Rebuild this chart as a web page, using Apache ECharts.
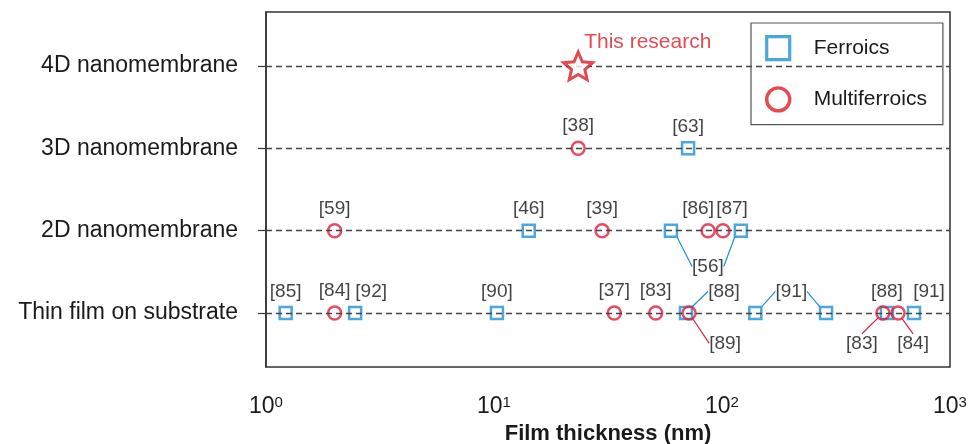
<!DOCTYPE html>
<html lang="en">
<head>
    <meta charset="utf-8">
    <title>Film thickness</title>
    <script type="text/javascript" src="https://cdn.jsdelivr.net/npm/echarts@6/dist/echarts.min.js"></script>
</head>
<body style="margin:0">
<div id="main" style="width: 968px;height:444px;"></div>
<script>
    // rows from bottom to top
    var rows = ['Thin film on substrate', '2D nanomembrane', '3D nanomembrane', '4D nanomembrane'];

    // ferroics (squares)
    var ferroThick = [1.22, 2.46, 10.3, 69.5, 140, 286, 529, 695, 14.2, 59.7, 121, 71];
    var ferroRow = [0, 0, 0, 0, 0, 0, 0, 0, 1, 1, 1, 2];
    var ferroRef = ['[85]', '[92]', '[90]', '[88]', '[91]', '[91]', '[88]', '[91]', '[46]', '[56]', '[56]', '[63]'];

    // multiferroics (circles)
    var multiThick = [2.0, 33.7, 51.2, 71.7, 508, 592, 2.0, 29.8, 86.9, 101, 23.4];
    var multiRow = [0, 0, 0, 0, 0, 0, 1, 1, 1, 1, 2];
    var multiRef = ['[84]', '[37]', '[83]', '[89]', '[83]', '[84]', '[59]', '[39]', '[86]', '[87]', '[38]'];

    // this work
    var thisThick = [23.4];
    var thisRow = [3];
    var thisName = ['This research'];

    var BLUE = '#1d92d2';
    var RED = '#e0203f';
    var STAR_RED = '#dc1d24';
    var FONT = 'Liberation Sans, Arial, sans-serif';

    // label placement tweaks (index -> placement); shared = label text drawn by its twin
    var ferroTweaks = {
        1: {dx: 16},
        3: {dx: 38, line: true},
        4: {dx: 36, line: true},
        5: {dx: -35, line: true, shared: true},
        7: {dx: 15},
        9: {pos: 'bottom', dist: 19, dx: 37, line: true},
        10: {pos: 'bottom', dist: 19, dx: -33, line: true, shared: true}
    };
    var multiTweaks = {
        3: {pos: 'bottom', dist: 13, dx: 36, line: true},
        4: {pos: 'bottom', dist: 13, dx: -21, line: true},
        5: {pos: 'bottom', dist: 13, dx: 15, line: true},
        8: {dx: -10},
        9: {dx: 9}
    };

    function buildItems(thick, row, ref, tweaks, lineColor) {
        return thick.map(function (v, i) {
            var item = {value: [v, row[i]], name: ref[i]};
            var t = tweaks[i];
            if (t) {
                item.label = {position: t.pos || 'top', distance: t.dist || 5};
                if (t.shared) {
                    item.label.color = 'rgba(0,0,0,0)';
                }
                if (t.line) {
                    item.labelLine = {show: true, lineStyle: {color: lineColor, width: 1.2}};
                }
            }
            return item;
        });
    }

    function shiftLabels(tweaks) {
        return function (params) {
            var t = tweaks[params.dataIndex];
            return t ? {dx: t.dx || 0} : {};
        };
    }

    var starPath = 'path://M50 0 L63.5 31.4 L97.55 34.55 L71.9 57.1 L79.39 90.45 L50 73 L20.61 90.45 L28.1 57.1 L2.45 34.55 L36.5 31.4 Z';

    var myChart = echarts.init(document.getElementById('main'));
    var option = {
        animation: false,
        textStyle: {fontFamily: FONT},
        grid: {
            left: 266, right: 18, top: 12, bottom: 77,
            outerBoundsMode: 'none',
            show: true, borderColor: '#333', borderWidth: 1.5, backgroundColor: 'transparent'
        },
        legend: {
            orient: 'vertical',
            left: 751, top: 23,
            padding: [12, 16, 12, 14],
            itemWidth: 23, itemHeight: 23, itemGap: 25,
            borderColor: '#555', borderWidth: 1.2, backgroundColor: '#fff',
            textStyle: {fontSize: 21, color: '#1a1a1a', fontFamily: FONT, padding: [0, 0, 0, 19]},
            data: [
                {name: 'Ferroics', icon: 'rect', itemStyle: {color: 'rgba(0,0,0,0)', borderColor: BLUE, borderWidth: 3.2}},
                {name: 'Multiferroics', icon: 'circle', itemStyle: {color: 'rgba(0,0,0,0)', borderColor: '#e01b22', borderWidth: 3.4}}
            ]
        },
        xAxis: {
            type: 'log',
            logBase: 10,
            min: 1,
            max: 1000,
            name: 'Film thickness (nm)',
            nameLocation: 'middle',
            nameGap: 55,
            nameTextStyle: {fontSize: 22, fontWeight: 'bold', color: '#1a1a1a', fontFamily: FONT},
            axisLine: {show: false},
            axisTick: {show: false},
            splitLine: {show: false},
            axisLabel: {
                margin: 28,
                color: '#1a1a1a',
                formatter: function (v) {
                    return '{b|10}{s|' + Math.round(Math.log10(v)) + '}';
                },
                rich: {
                    b: {fontSize: 23, lineHeight: 24, color: '#1a1a1a', fontFamily: FONT},
                    s: {fontSize: 15, lineHeight: 24, verticalAlign: 'top', color: '#1a1a1a', fontFamily: FONT}
                }
            }
        },
        yAxis: {
            type: 'value',
            min: -0.655,
            max: 3.655,
            axisLine: {show: true, lineStyle: {color: '#333', width: 1.5}},
            axisTick: {show: true, customValues: [0, 1, 2, 3], length: 8, lineStyle: {color: '#333', width: 1.2}},
            axisLabel: {
                customValues: [0, 1, 2, 3],
                formatter: function (v) { return rows[Math.round(v)]; },
                fontSize: 23, color: '#1a1a1a', margin: 28, fontFamily: FONT
            },
            splitLine: {show: false}
        },
        series: [
            {
                type: 'scatter',
                name: 'rows',
                data: [],
                z: 1,
                silent: true,
                markLine: {
                    silent: true,
                    symbol: ['none', 'none'],
                    label: {show: false},
                    lineStyle: {type: [6, 4], color: '#444', width: 1.3},
                    data: rows.map(function (r, i) { return {yAxis: i}; })
                }
            },
            {
                type: 'scatter',
                name: 'Ferroics',
                z: 3,
                symbol: 'rect',
                symbolSize: 12,
                itemStyle: {color: 'rgba(0,0,0,0)', borderColor: BLUE, borderWidth: 2.5},
                label: {
                    show: true, position: 'top', distance: 5,
                    formatter: function (p) { return p.name; },
                    fontSize: 19, color: '#111', fontFamily: FONT
                },
                labelLayout: shiftLabels(ferroTweaks),
                data: buildItems(ferroThick, ferroRow, ferroRef, ferroTweaks, BLUE)
            },
            {
                type: 'scatter',
                name: 'Multiferroics',
                z: 4,
                symbol: 'circle',
                symbolSize: 13,
                itemStyle: {color: 'rgba(0,0,0,0)', borderColor: RED, borderWidth: 2.5},
                label: {
                    show: true, position: 'top', distance: 5,
                    formatter: function (p) { return p.name; },
                    fontSize: 19, color: '#111', fontFamily: FONT
                },
                labelLayout: shiftLabels(multiTweaks),
                data: buildItems(multiThick, multiRow, multiRef, multiTweaks, RED)
            },
            {
                type: 'scatter',
                name: 'This research',
                z: 5,
                symbol: starPath,
                symbolSize: 29,
                symbolKeepAspect: true,
                itemStyle: {color: '#fff', borderColor: STAR_RED, borderWidth: 3},
                label: {
                    show: true, position: 'right', distance: 5, offset: [-15, -24],
                    formatter: function (p) { return p.name; },
                    fontSize: 21, color: STAR_RED, fontFamily: FONT
                },
                data: thisThick.map(function (v, i) { return {value: [v, thisRow[i]], name: thisName[i]}; })
            }
        ]
    };
    myChart.setOption(option);
</script>
</body>
</html>
